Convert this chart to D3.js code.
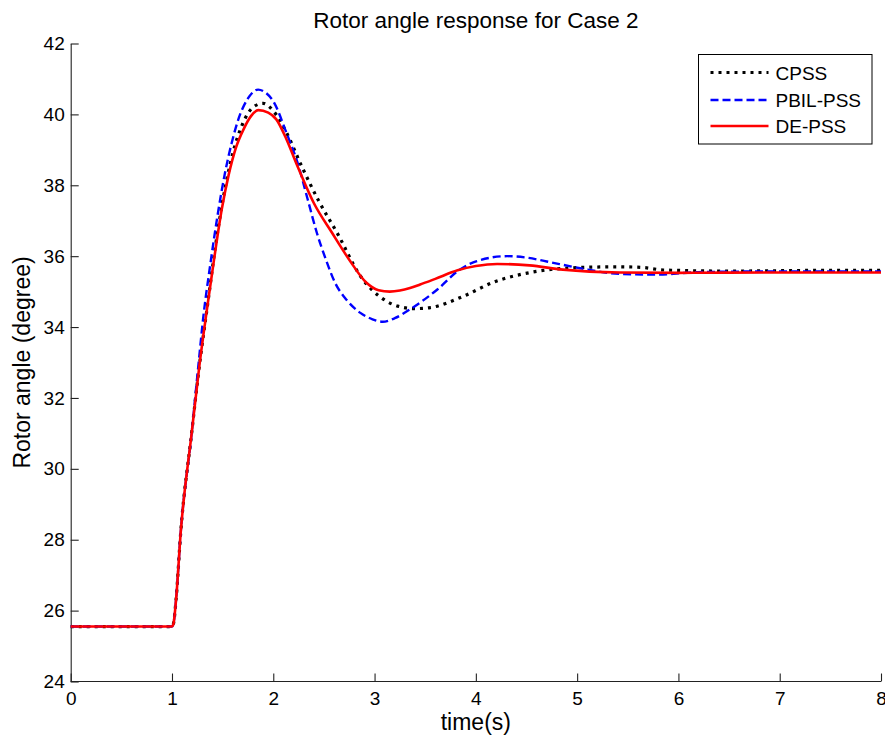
<!DOCTYPE html>
<html>
<head>
<meta charset="utf-8">
<script src="https://cdn.jsdelivr.net/npm/d3@7"></script>
<style>
  body { margin: 0; background: #fff; }
  text { font-family: "Liberation Sans", Arial, Helvetica, sans-serif; fill: #000; }
</style>
</head>
<body>
<script>
// series names shown in the legend
var seriesNames = ['CPSS', 'PBIL-PSS', 'DE-PSS'];

// tick values for both axes
var xTicks = [0, 1, 2, 3, 4, 5, 6, 7, 8];
var yTicks = [24, 26, 28, 30, 32, 34, 36, 38, 40, 42];

// [time (s), rotor angle (degree)]
var cpss = [[0, 25.55], [0.5, 25.55], [1.0, 25.55], [1.013, 25.61], [1.04, 26.3], [1.086, 28.2],
  [1.194, 31.0], [1.27, 32.9], [1.35, 34.6], [1.43, 36.3], [1.51, 37.7], [1.6, 38.9], [1.7, 39.75],
  [1.8, 40.2], [1.9, 40.31], [2.0, 40.1], [2.13, 39.49], [2.28, 38.54], [2.45, 37.55], [2.63, 36.66],
  [2.86, 35.44], [3.09, 34.78], [3.23, 34.59], [3.4, 34.52], [3.55, 34.55], [3.87, 34.86],
  [4.17, 35.26], [4.6, 35.57], [5.03, 35.68], [5.42, 35.7], [5.65, 35.68], [5.85, 35.61],
  [6.5, 35.58], [7.5, 35.6], [8, 35.6]];

var pbil = [[0, 25.55], [0.5, 25.55], [1.0, 25.55], [1.013, 25.61], [1.04, 26.3], [1.086, 28.2],
  [1.194, 31.0], [1.26, 32.9], [1.31, 34.3], [1.38, 35.8], [1.45, 37.15], [1.52, 38.3],
  [1.59, 39.2], [1.66, 39.9], [1.75, 40.45], [1.85, 40.7], [1.93, 40.6], [2.0, 40.37], [2.13, 39.48],
  [2.25, 38.54], [2.34, 37.6], [2.43, 36.66], [2.52, 35.9], [2.61, 35.25], [2.72, 34.78],
  [2.86, 34.4], [2.98, 34.22], [3.08, 34.15], [3.2, 34.25], [3.35, 34.5], [3.62, 35.06],
  [3.84, 35.62], [4.01, 35.86], [4.31, 36.0], [4.5, 35.96], [4.7, 35.85], [5.03, 35.66],
  [5.42, 35.5], [5.8, 35.48], [6.2, 35.55], [7, 35.57], [8, 35.57]];

var dePss = [[0, 25.55], [0.5, 25.55], [1.0, 25.55], [1.013, 25.61], [1.04, 26.3], [1.086, 28.2],
  [1.194, 31.0], [1.27, 32.9], [1.35, 34.6], [1.42, 36.0], [1.49, 37.3], [1.56, 38.3],
  [1.63, 39.05], [1.71, 39.6], [1.78, 39.95], [1.852, 40.12], [1.95, 40.05], [2.03, 39.86],
  [2.13, 39.3], [2.23, 38.6], [2.4, 37.5], [2.58, 36.66], [2.75, 35.9], [2.92, 35.25],
  [3.04, 35.04], [3.15, 35.0], [3.25, 35.03], [3.35, 35.1], [3.45, 35.2], [3.6, 35.36],
  [3.82, 35.6], [4.0, 35.72], [4.21, 35.78], [4.53, 35.74], [4.86, 35.62], [5.42, 35.54],
  [6, 35.53], [7, 35.54], [8, 35.54]];

var width = 885, height = 737;
var margin = {left: 70.7, right: 4, top: 43.5, bottom: 55.5};

var svg = d3.select('body').append('svg')
    .attr('width', width)
    .attr('height', height);

var x = d3.scaleLinear().domain([0, 8]).range([margin.left, width - margin.right]);
var y = d3.scaleLinear().domain([24, 42]).range([height - margin.bottom, margin.top]);

// axes, ticks pointing inward like matlab
var xAxis = svg.append('g')
    .attr('transform', 'translate(0,' + y(24) + ')')
    .call(d3.axisBottom(x).tickValues(xTicks).tickSizeInner(-8).tickSizeOuter(0).tickPadding(10));
var yAxis = svg.append('g')
    .attr('transform', 'translate(' + x(0) + ',0)')
    .call(d3.axisLeft(y).tickValues(yTicks).tickSizeInner(-8).tickSizeOuter(0).tickPadding(6));

[xAxis, yAxis].forEach(function(a) {
  a.selectAll('path, line').attr('stroke', '#222').attr('stroke-width', 1.1);
  a.selectAll('text').style('font-size', '19px').attr('fill', '#111');
});
xAxis.select('.domain').attr('d', 'M' + x(0) + ',0H' + x(8));

var line = d3.line()
    .x(function(d) { return x(d[0]); })
    .y(function(d) { return y(d[1]); })
    .curve(d3.curveMonotoneX);

var styles = [
  {data: cpss, color: '#000', width: 3.2, dash: '3,5'},
  {data: pbil, color: '#0000ff', width: 2.4, dash: '8,4'},
  {data: dePss, color: '#ff0000', width: 2.6, dash: null}
];

svg.append('g').selectAll('path')
    .data(styles)
    .enter().append('path')
    .attr('d', function(d) { return line(d.data); })
    .attr('fill', 'none')
    .attr('stroke', function(d) { return d.color; })
    .attr('stroke-width', function(d) { return d.width; })
    .attr('stroke-dasharray', function(d) { return d.dash; });

// title and axis labels
svg.append('text')
    .attr('x', (x(0) + x(8)) / 2).attr('y', 28)
    .attr('text-anchor', 'middle').style('font-size', '22.5px')
    .text('Rotor angle response for Case 2');
svg.append('text')
    .attr('x', (x(0) + x(8)) / 2).attr('y', 730)
    .attr('text-anchor', 'middle').style('font-size', '23px')
    .text('time(s)');
svg.append('text')
    .attr('transform', 'translate(30,' + y(33) + ') rotate(-90)')
    .attr('text-anchor', 'middle').style('font-size', '23px')
    .text('Rotor angle (degree)');

// legend
var legend = svg.append('g').attr('transform', 'translate(698.5,54.5)');
legend.append('rect')
    .attr('width', 173.5).attr('height', 89.5)
    .attr('fill', '#fff').attr('stroke', '#000').attr('stroke-width', 1);
var rowY = [18, 45.5, 71.5];
styles.forEach(function(s, i) {
  legend.append('line')
      .attr('x1', 12).attr('x2', 70)
      .attr('y1', rowY[i]).attr('y2', rowY[i])
      .attr('stroke', s.color).attr('stroke-width', s.width)
      .attr('stroke-dasharray', s.dash);
  legend.append('text')
      .attr('x', 77).attr('y', rowY[i] + 7)
      .style('font-size', '19px')
      .text(seriesNames[i]);
});
</script>
</body>
</html>
